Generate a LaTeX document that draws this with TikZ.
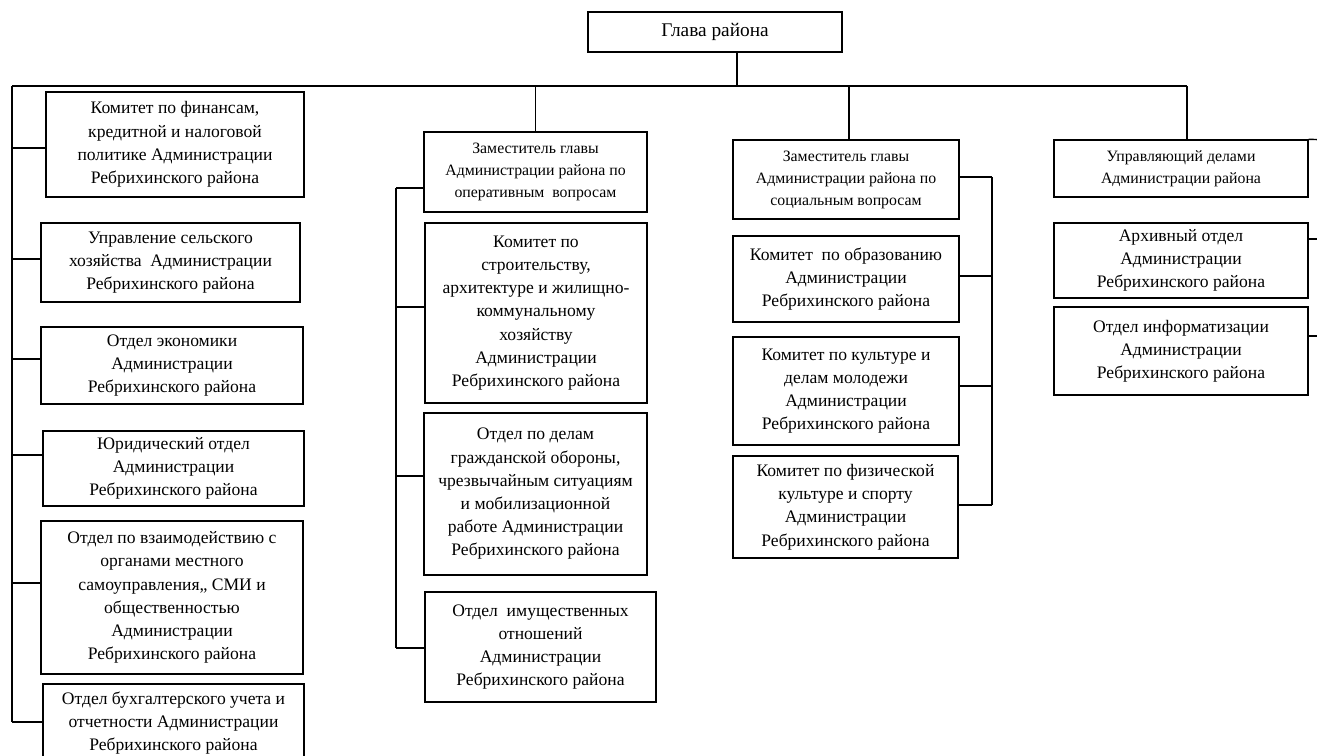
\documentclass[tikz,border=0pt]{standalone}
\usepackage{fontspec}
\setmainfont{Liberation Serif}
\begin{document}
\begin{tikzpicture}[x=0.02cm, y=-0.02cm,
    box/.style={draw, line width=0.8pt, align=center, inner sep=1pt,
        font=\fontsize{10}{13.2}\selectfont},
    zam/.style={box, font=\fontsize{9}{12.5}\selectfont},
    razmer/.style 2 args={minimum width=#1*0.02cm, minimum height=#2*0.02cm},
    svyaz/.style={line width=0.8pt}]
    % Рамка рисунка
    \useasboundingbox (0,0) rectangle (1317,756);
    \clip (0,0) rectangle (1317,756);

    % Глава и шина
    \node[box, razmer={254}{40}, font=\fontsize{11}{13}\selectfont] (glava) at (715,32) {Глава района};
    \coordinate (busL) at (12,86);
    \coordinate (busR) at (1187,86);
    \coordinate (top) at (737,86);
    \coordinate (lend) at (12,722);
    \draw[svyaz] (top |- glava.south) -- (top);
    \draw[svyaz] (busL) -- (busR);

    % Левый столбец
    \node[box, razmer={258}{105}] (fin) at (175,144.5) {Комитет по финансам,\\кредитной и налоговой\\политике Администрации\\Ребрихинского района};
    \node[box, razmer={259}{79}] (selh) at (170.5,262.5) {Управление сельского\\хозяйства~ Администрации\\Ребрихинского района};
    \node[box, razmer={262}{77}] (ekon) at (172,365.5) {Отдел экономики\\Администрации\\Ребрихинского района};
    \node[box, razmer={261}{75}] (yur) at (173.5,468.5) {Юридический отдел\\Администрации\\Ребрихинского района};
    \node[box, razmer={262}{153}] (smi) at (172,597.5) {Отдел по взаимодействию с\\органами местного\\самоуправления,, СМИ и\\общественностью\\Администрации\\Ребрихинского района};
    \node[box, razmer={261}{78}] (buh) at (173.5,723) {Отдел бухгалтерского учета и\\отчетности Администрации\\Ребрихинского района};
    \draw[svyaz] (busL) -- (lend);
    \foreach \b/\y in {fin/148, selh/259, ekon/359, yur/455, smi/583, buh/722}
        \draw[svyaz] (12,\y) -- (\b.west |- 12,\y);

    % Заместитель по оперативным вопросам
    \node[zam, razmer={223}{80}] (zamop) at (535.5,172) {Заместитель главы\\Администрации района по\\оперативным~ вопросам};
    \node[box, razmer={222}{180}] (stroy) at (536,313) {Комитет по\\строительству,\\архитектуре и жилищно-\\коммунальному\\хозяйству\\Администрации\\Ребрихинского района};
    \node[box, razmer={223}{162}] (gochs) at (535.5,494) {Отдел по делам\\гражданской обороны,\\чрезвычайным ситуациям\\и мобилизационной\\работе Администрации\\Ребрихинского района};
    \node[box, razmer={231}{110}] (imusch) at (540.5,647) {Отдел~ имущественных\\отношений\\Администрации\\Ребрихинского района};
    \draw[svyaz] (zamop.north |- busL) -- (zamop.north);
    \draw[svyaz] (396,188) -- (396,648);
    \foreach \b/\y in {zamop/188, stroy/307, gochs/476, imusch/648}
        \draw[svyaz] (396,\y) -- (\b.west |- 396,\y);

    % Заместитель по социальным вопросам
    \node[zam, razmer={226}{79}] (zamsoc) at (846,179.5) {Заместитель главы\\Администрации района по\\социальным вопросам};
    \node[box, razmer={226}{86}] (obr) at (846,279) {Комитет~ по образованию\\Администрации\\Ребрихинского района};
    \node[box, razmer={226}{108}] (kult) at (846,391) {Комитет по культуре и\\делам молодежи\\Администрации\\Ребрихинского района};
    \node[box, razmer={225}{102}] (sport) at (845.5,507) {Комитет по физической\\культуре и спорту\\Администрации\\Ребрихинского района};
    \draw[svyaz] (849,86) -- (849,140);
    \draw[svyaz] (992,177) -- (992,505);
    \foreach \b/\y in {zamsoc/177, obr/276, kult/386, sport/505}
        \draw[svyaz] (992,\y) -- (\b.east |- 992,\y);

    % Управляющий делами
    \node[zam, razmer={254}{57}] (upr) at (1181,168.5) {Управляющий делами\\Администрации района};
    \node[box, razmer={254}{75}] (arh) at (1181,260.5) {Архивный отдел\\Администрации\\Ребрихинского района};
    \node[box, razmer={254}{88}] (inf) at (1181,351) {Отдел информатизации\\Администрации\\Ребрихинского района};
    \draw[svyaz] (busR) -- (busR |- upr.north);
    \draw[svyaz] (upr.north east) -- (1330,140) -- (1330,336);
    \foreach \b/\y in {arh/239, inf/336}
        \draw[svyaz] (1330,\y) -- (\b.east |- 1330,\y);
\end{tikzpicture}
\end{document}
